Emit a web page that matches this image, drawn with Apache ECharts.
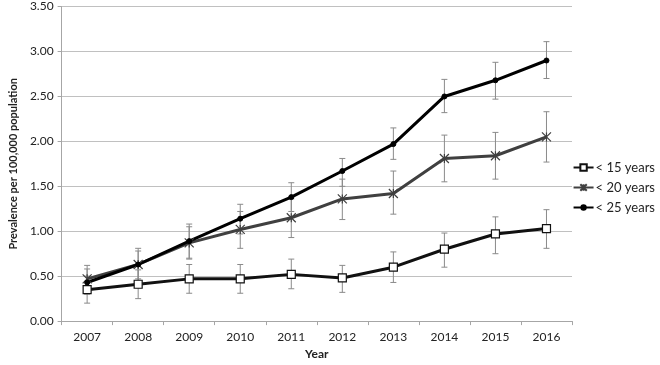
<!DOCTYPE html>
<html><head><meta charset="utf-8">
<script src="https://cdn.jsdelivr.net/npm/echarts@6/dist/echarts.min.js"></script>
<style>html,body{margin:0;padding:0;background:#fff}#c{width:660px;height:365px}</style>
</head><body><div id="c"></div>
<script>
var years = ['2007','2008','2009','2010','2011','2012','2013','2014','2015','2016'];
var names = ['< 15 years','< 20 years','< 25 years'];
var v15 = [0.35,0.41,0.47,0.47,0.52,0.48,0.60,0.80,0.97,1.03];
var lo15 = [0.20,0.25,0.31,0.31,0.36,0.32,0.43,0.60,0.75,0.81];
var hi15 = [0.50,0.57,0.63,0.63,0.69,0.62,0.77,0.98,1.16,1.24];
var v20 = [0.47,0.63,0.87,1.02,1.15,1.36,1.42,1.81,1.84,2.05];
var lo20 = [0.32,0.45,0.69,0.81,0.93,1.13,1.19,1.55,1.58,1.77];
var hi20 = [0.62,0.81,1.05,1.22,1.36,1.58,1.67,2.07,2.10,2.33];
var v25 = [0.43,0.63,0.89,1.14,1.38,1.67,1.97,2.50,2.68,2.90];
var lo25 = [0.30,0.47,0.70,0.97,1.22,1.50,1.80,2.32,2.47,2.70];
var hi25 = [0.58,0.78,1.08,1.30,1.54,1.81,2.15,2.69,2.88,3.11];
var yTicks = [0,0.5,1,1.5,2,2.5,3,3.5];

function errData(lo, hi){ return years.map(function(y,i){ return [i, lo[i], hi[i]]; }); }
function errSeries(lo, hi){
  return {type:'custom', silent:true, z:1, data: errData(lo,hi),
    encode:{x:0,y:[1,2]},
    renderItem:function(params, api){
      var x = api.value(0);
      var a = api.coord([x, api.value(1)]);
      var b = api.coord([x, api.value(2)]);
      var w = 3;
      var st = {stroke:'#8a8a8a', lineWidth:1};
      return {type:'group', children:[
        {type:'line', shape:{x1:a[0],y1:a[1],x2:b[0],y2:b[1]}, style:st},
        {type:'line', shape:{x1:a[0]-w,y1:a[1],x2:a[0]+w,y2:a[1]}, style:st},
        {type:'line', shape:{x1:b[0]-w,y1:b[1],x2:b[0]+w,y2:b[1]}, style:st}
      ]};
    }};
}
var font = 'Lato, "Open Sans", sans-serif';
var chart = echarts.init(document.getElementById('c'), null, {renderer:'canvas'});
chart.setOption({
  animation:false,
  backgroundColor:'#fff',
  textStyle:{fontFamily:font},
  grid:{left:53, right:88, top:6.6, bottom:42},
  legend:{orient:'vertical', right:0, top:156, itemGap:7, itemWidth:20, itemHeight:8,
    textStyle:{fontFamily:font, fontSize:13, color:'#222', padding:[0,0,0,-3]},
    data:names},
  xAxis:{type:'category', data:years, boundaryGap:true,
    axisLine:{lineStyle:{color:'#a6a6a6', width:1}},
    axisTick:{show:true, interval:0, length:4, lineStyle:{color:'#a6a6a6'}},
    axisLabel:{color:'#222', fontSize:12, margin:10, fontFamily:font},
    name:'Year', nameLocation:'middle', nameGap:25,
    nameTextStyle:{fontWeight:'bold', fontSize:12, color:'#222', fontFamily:font}},
  yAxis:{type:'value', min:0, max:3.5, interval:0.5,
    axisLine:{show:true, lineStyle:{color:'#a6a6a6'}},
    axisTick:{show:true, length:4, lineStyle:{color:'#a6a6a6'}},
    splitLine:{lineStyle:{color:'#c0c0c0', width:1}},
    axisLabel:{color:'#222', fontSize:12, margin:8, fontFamily:font,
      formatter:function(v){ return v.toFixed(2); }},
    name:'Prevalence per 100,000 population', nameLocation:'middle', nameGap:36,
    nameTextStyle:{fontWeight:'bold', fontSize:11, color:'#222', fontFamily:font}},
  series:[
    errSeries(lo15,hi15), errSeries(lo20,hi20), errSeries(lo25,hi25),
    {name:names[0], type:'line', data:v15, z:3, symbol:'rect', symbolSize:8,
      lineStyle:{color:'#111', width:3}, itemStyle:{color:'#fff', borderColor:'#111', borderWidth:1.2}},
    {name:names[1], type:'line', data:v20, z:3, symbol:'path://M0,0L10,10M10,0L0,10M5,0L5,10', symbolSize:9,
      lineStyle:{color:'#404040', width:3}, itemStyle:{color:'#404040', borderColor:'#404040', borderWidth:1.2}},
    {name:names[2], type:'line', data:v25, z:3, symbol:'circle', symbolSize:5,
      lineStyle:{color:'#000', width:3}, itemStyle:{color:'#000', borderColor:'#000'}}
  ]
});
</script></body></html>
